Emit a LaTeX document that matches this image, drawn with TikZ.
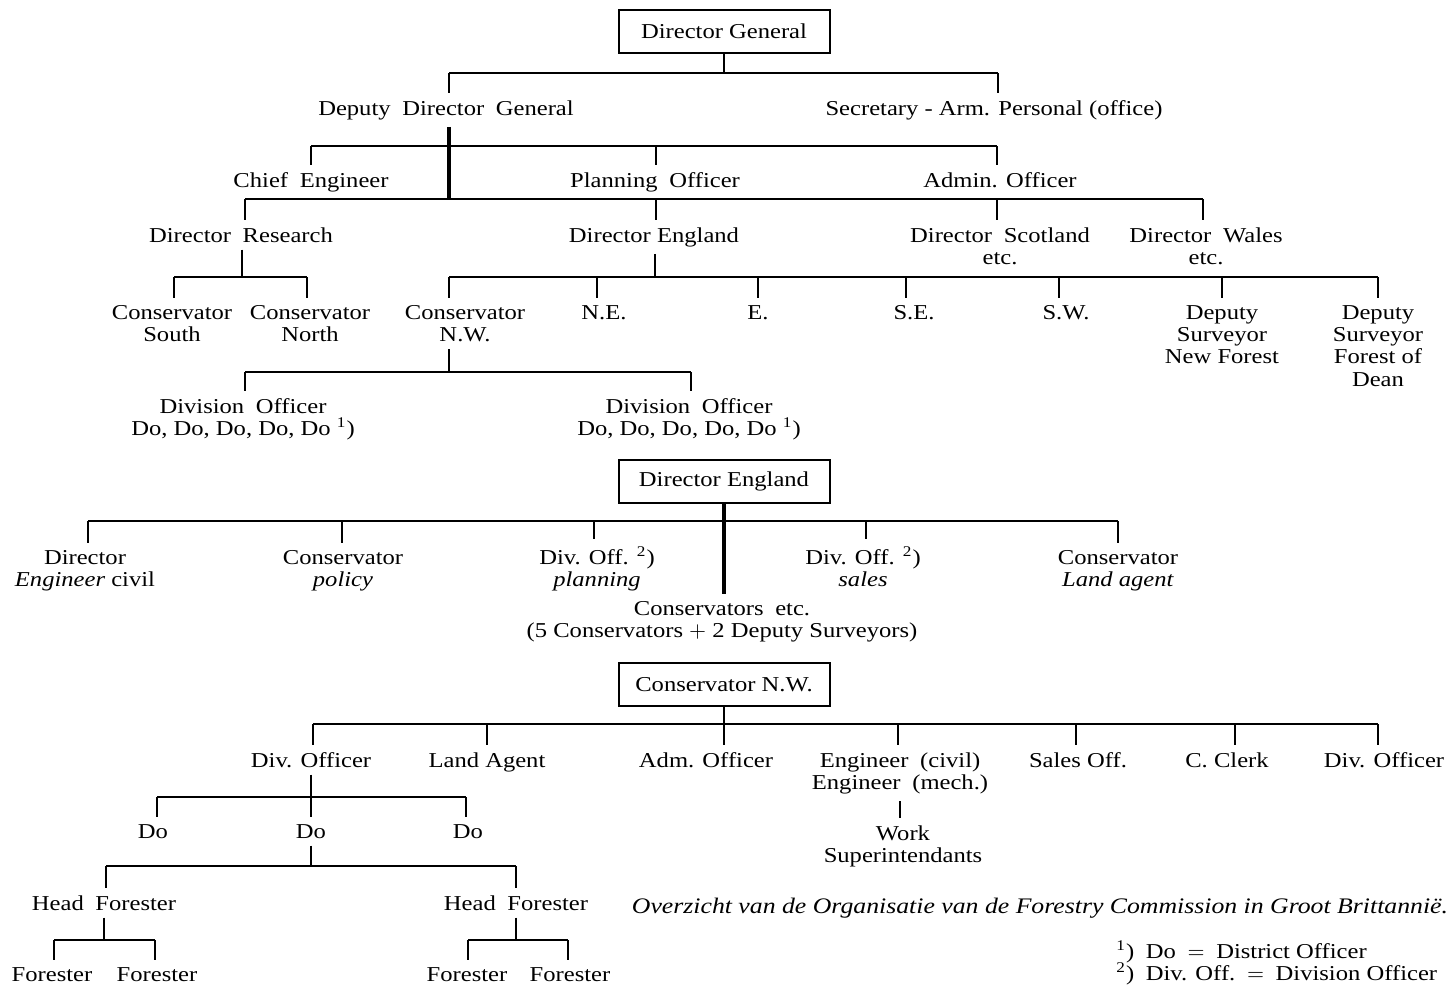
\documentclass[tikz,border=0pt]{standalone}
\usepackage{fontspec}
\setmainfont{Liberation Serif}[FakeStretch=1.16]
\newcommand{\wsp}{\hspace{0.55em}}
\begin{document}
\begin{tikzpicture}[x=0.5pt,y=-0.5pt,
  every node/.style={font=\fontsize{10.6}{11.2}\selectfont},
  lbl/.style={inner xsep=1pt, inner ysep=3.5pt, anchor=base, align=center},
  box/.style={draw, line width=1pt, minimum width=105.5pt, minimum height=21.5pt, inner sep=0pt},
  conn/.style={line width=1.15pt},
  trunk/.style={line width=1.6pt},
  thinc/.style={line width=0.8pt}]
\useasboundingbox (0,0) rectangle (1448,986);

% ---------------- Section 1 ----------------
\node[box] (dg) at (724,31.5) {Director General};
\node[lbl] (ddg) at (446,115) {Deputy\wsp Director\wsp General};
\node[lbl] (sec) at (994,115) {Secretary - Arm. Personal (office)};
\node[lbl] (ce) at (311,187) {Chief\wsp Engineer};
\node[lbl] (po) at (655,187) {Planning\wsp Officer};
\node[lbl] (ao) at (1000,187) {Admin. Officer};
\node[lbl] (dr) at (241,242) {Director\wsp Research};
\node[lbl] (de) at (654,242) {Director England};
\node[lbl] (ds) at (1000,264.4) {Director\wsp Scotland\\etc.};
\node[lbl] (dw) at (1206,264.4) {Director\wsp Wales\\etc.};
\node[lbl] (cs) at (172,341.4) {Conservator\\South};
\node[lbl] (cn) at (310,341.4) {Conservator\\North};
\node[lbl] (cnw) at (465,341.4) {Conservator\\N.W.};
\node[lbl] (ne) at (604,319) {N.E.};
\node[lbl] (ee) at (758,319) {E.};
\node[lbl] (se) at (914,319) {S.E.};
\node[lbl] (sw) at (1066,319) {S.W.};
\node[lbl] (dsnf) at (1222,363.8) {Deputy\\Surveyor\\New Forest};
\node[lbl] (dsfd) at (1378,386.2) {Deputy\\Surveyor\\Forest of\\Dean};
\node[lbl] (dv1) at (243,435.4) {Division\wsp Officer\\Do, Do, Do, Do, Do \textsuperscript{1})};
\node[lbl] (dv2) at (689,435.4) {Division\wsp Officer\\Do, Do, Do, Do, Do \textsuperscript{1})};

\coordinate (a0) at (724,73); \coordinate (a1) at (449,73); \coordinate (a2) at (998,73);
\draw[conn] (dg.south) -- (a0);
\draw[conn] (a1) -- (a2);
\draw[conn] (a1) -- (a1 |- ddg.north);
\draw[conn] (a2) -- (a2 |- sec.north);

\coordinate (b0) at (449,146); \coordinate (b1) at (311,146);
\coordinate (b2) at (656,146); \coordinate (b3) at (997,146);
\coordinate (c0) at (449,199);
\draw[trunk] (ddg.south -| b0) -- (c0);
\draw[conn] (b1) -- (b3);
\draw[conn] (b1) -- (b1 |- ce.north);
\draw[conn] (b2) -- (b2 |- po.north);
\draw[conn] (b3) -- (b3 |- ao.north);

\coordinate (c1) at (245,199); \coordinate (c2) at (656,199);
\coordinate (c3) at (997,199); \coordinate (c4) at (1203,199);
\draw[conn] (c1) -- (c4);
\draw[conn] (c1) -- (c1 |- dr.north);
\draw[conn] (c2) -- (c2 |- de.north);
\draw[conn] (c3) -- (c3 |- ds.north);
\draw[conn] (c4) -- (c4 |- dw.north);

\coordinate (d0) at (242,277); \coordinate (d1) at (174,277); \coordinate (d2) at (307,277);
\draw[conn] (dr.south -| d0) -- (d0);
\draw[conn] (d1) -- (d2);
\draw[conn] (d1) -- (d1 |- cs.north);
\draw[conn] (d2) -- (d2 |- cn.north);

\coordinate (e0) at (655,277);
\coordinate (e1) at (449,277); \coordinate (e2) at (597,277); \coordinate (e3) at (758,277);
\coordinate (e4) at (906,277); \coordinate (e5) at (1059,277); \coordinate (e6) at (1222,277);
\coordinate (e7) at (1378,277);
\draw[conn] (de.south -| e0) -- (e0);
\draw[conn] (e1) -- (e7);
\draw[conn] (e1) -- (e1 |- cnw.north);
\draw[conn] (e2) -- (e2 |- ne.north);
\draw[conn] (e3) -- (e3 |- ee.north);
\draw[conn] (e4) -- (e4 |- se.north);
\draw[conn] (e5) -- (e5 |- sw.north);
\draw[conn] (e6) -- (e6 |- dsnf.north);
\draw[thinc] (e7) -- (e7 |- dsfd.north);

\coordinate (f0) at (449,372); \coordinate (f1) at (245,372); \coordinate (f2) at (691,372);
\draw[conn] (cnw.south -| f0) -- (f0);
\draw[conn] (f1) -- (f2);
\draw[conn] (f1) -- (f1 |- dv1.north);
\draw[thinc] (f2) -- (f2 |- dv2.north);

% ---------------- Section 2 ----------------
\node[box] (de2) at (724,481) {Director England};
\node[lbl] (dec) at (85,586.4) {Director\\\textit{Engineer} civil};
\node[lbl] (cpol) at (343,586.4) {Conservator\\\textit{policy}};
\node[lbl] (dop) at (597,586.4) {Div. Off. \textsuperscript{2})\\\textit{planning}};
\node[lbl] (dos) at (863,586.4) {Div. Off. \textsuperscript{2})\\\textit{sales}};
\node[lbl] (cla) at (1118,586.4) {Conservator\\\textit{Land agent}};
\node[lbl] (cetc) at (722,637.4) {Conservators\wsp etc.\\(5 Conservators $+$ 2 Deputy Surveyors)};

\coordinate (g1) at (88,521); \coordinate (g2) at (342,521); \coordinate (g3) at (594,521);
\coordinate (g4) at (866,521); \coordinate (g5) at (1118,521);
\draw[trunk] (de2.south) -- (de2.south |- cetc.north);
\draw[conn] (g1) -- (g5);
\draw[conn] (g1) -- (g1 |- dec.north);
\draw[conn] (g2) -- (g2 |- cpol.north);
\draw[thinc] (g3) -- (g3 |- dop.north);
\draw[conn] (g4) -- (g4 |- dos.north);
\draw[conn] (g5) -- (g5 |- cla.north);

% ---------------- Section 3 ----------------
\node[box] (cnw2) at (724,684.5) {Conservator N.W.};
\node[lbl] (dvo) at (311,767) {Div. Officer};
\node[lbl] (la) at (487,767) {Land Agent};
\node[lbl] (adm) at (706,767) {Adm. Officer};
\node[lbl] (eng) at (900,789.4) {Engineer\wsp (civil)\\Engineer\wsp (mech.)};
\node[lbl] (so) at (1078,767) {Sales Off.};
\node[lbl] (cc) at (1227,767) {C. Clerk};
\node[lbl] (dvo2) at (1384,767) {Div. Officer};
\node[lbl] (work) at (903,862.4) {Work\\Superintendants};

\coordinate (h1) at (313,724); \coordinate (h2) at (487,724); \coordinate (h4) at (898,724);
\coordinate (h5) at (1076,724); \coordinate (h6) at (1235,724); \coordinate (h7) at (1378,724);
\draw[conn] (cnw2.south) -- (cnw2.south |- adm.north);
\draw[conn] (h1) -- (h7);
\draw[conn] (h1) -- (h1 |- dvo.north);
\draw[conn] (h2) -- (h2 |- la.north);
\draw[conn] (h4) -- (h4 |- eng.north);
\draw[conn] (h5) -- (h5 |- so.north);
\draw[conn] (h6) -- (h6 |- cc.north);
\draw[thinc] (h7) -- (h7 |- dvo2.north);
\draw[conn] (eng.south) -- (eng.south |- work.north);

\node[lbl] (do1) at (153,838) {Do};
\node[lbl] (do2) at (311,838) {Do};
\node[lbl] (do3) at (468,838) {Do};
\coordinate (i1) at (157,797); \coordinate (i2) at (311,797); \coordinate (i3) at (466,797);
\draw[conn] (dvo.south) -- (dvo.south |- do2.north);
\draw[conn] (i1) -- (i3);
\draw[conn] (i1) -- (i1 |- do1.north);
\draw[conn] (i3) -- (i3 |- do3.north);

\node[lbl] (hf1) at (104,910) {Head\wsp Forester};
\node[lbl] (hf2) at (516,910) {Head\wsp Forester};
\coordinate (j1) at (106,866); \coordinate (j0) at (311,866); \coordinate (j2) at (516,866);
\draw[conn] (do2.south) -- (j0);
\draw[conn] (j1) -- (j2);
\draw[conn] (j1) -- (j1 |- hf1.north);
\draw[conn] (j2) -- (j2 |- hf2.north);

\node[lbl] (fo1) at (52,981) {Forester};
\node[lbl] (fo2) at (157,981) {Forester};
\node[lbl] (fo3) at (467,981) {Forester};
\node[lbl] (fo4) at (570,981) {Forester};
\coordinate (k0) at (104,940); \coordinate (k1) at (54,940); \coordinate (k2) at (155,940);
\coordinate (l0) at (516,940); \coordinate (l1) at (468,940); \coordinate (l2) at (568,940);
\draw[conn] (hf1.south -| k0) -- (k0);
\draw[conn] (k1) -- (k2);
\draw[conn] (k1) -- (k1 |- fo1.north);
\draw[conn] (k2) -- (k2 |- fo2.north);
\draw[conn] (hf2.south -| l0) -- (l0);
\draw[conn] (l1) -- (l2);
\draw[conn] (l1) -- (l1 |- fo3.north);
\draw[conn] (l2) -- (l2 |- fo4.north);

% ---------------- Caption and notes ----------------
\node[lbl, anchor=base, font=\fontsize{11.1}{12}\selectfont] (cap) at (1040,913) {\textit{Overzicht van de Organisatie van de Forestry Commission in Groot Brittanni\"e.}};
\node[lbl, anchor=base west] (fn1) at (1114,958) {\textsuperscript{1})\wsp Do\wsp $=$\wsp District Officer};
\node[lbl, anchor=base west] (fn2) at (1114,980) {\textsuperscript{2})\wsp Div. Off.\wsp $=$\wsp Division Officer};
\end{tikzpicture}
\end{document}
